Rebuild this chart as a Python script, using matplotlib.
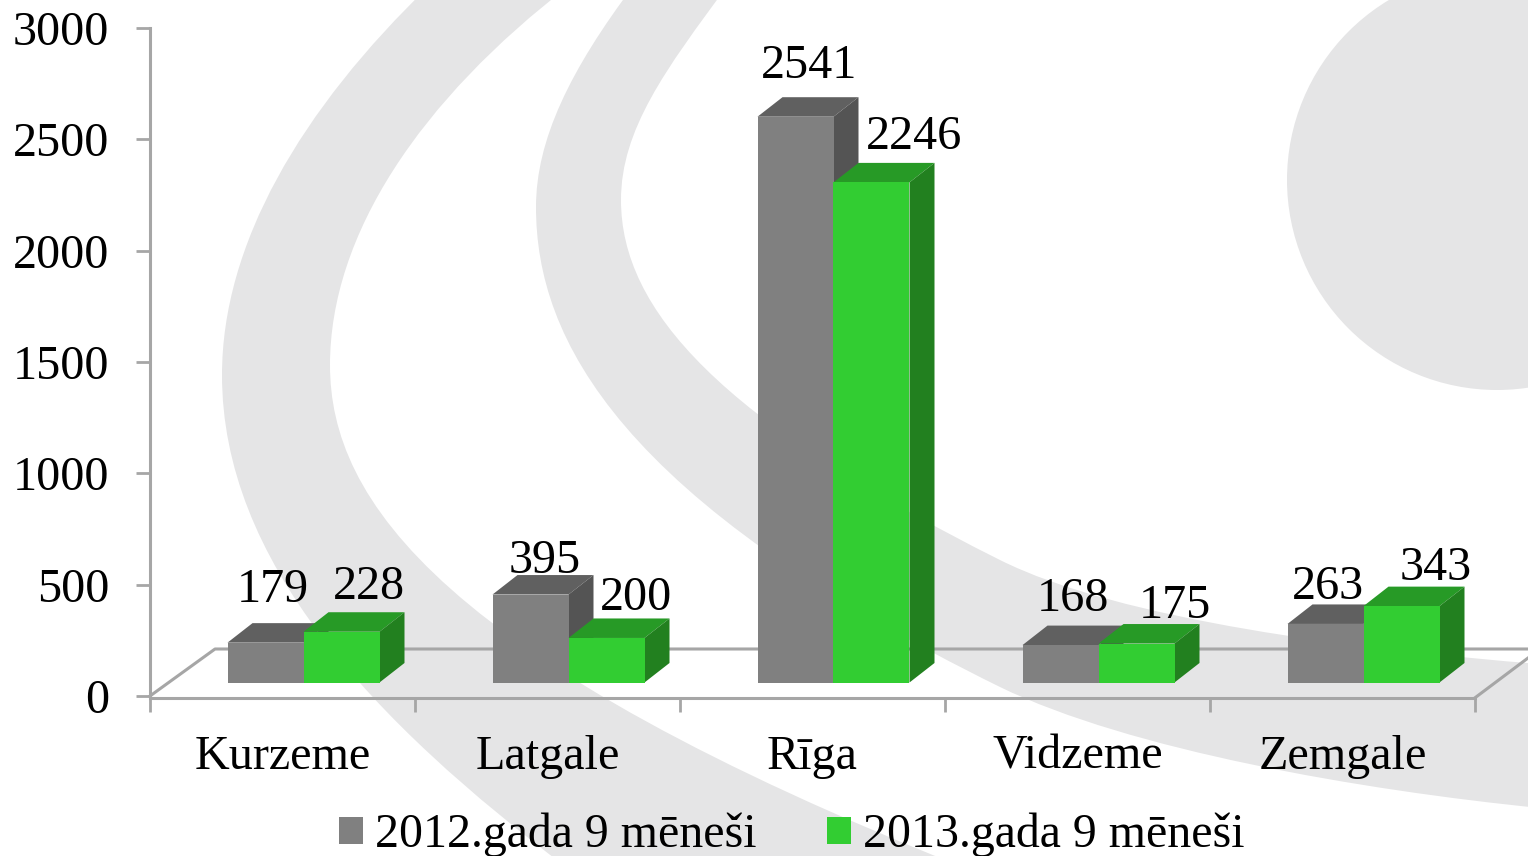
import numpy as np
import matplotlib
matplotlib.use("Agg")
import matplotlib.pyplot as plt
from matplotlib.patches import Polygon, Circle, PathPatch
from matplotlib.path import Path

plt.rcParams['font.family'] = ['Liberation Serif', 'DejaVu Serif']

REGIONS = ['Kurzeme', 'Latgale', 'Rīga', 'Vidzeme', 'Zemgale']
VALUES_2012 = [179, 395, 2541, 168, 263]
VALUES_2013 = [228, 200, 2246, 175, 343]
SERIES_NAMES = ['2012.gada 9 mēneši', '2013.gada 9 mēneši']
Y_TICKS = [0, 500, 1000, 1500, 2000, 2500, 3000]

# hand placed data labels, pixels right of / above the front top of each bar
LABEL_SHIFT_2012 = [(7, 41), (14, 22), (14, 39), (12, 34), (2.5, 25)]
LABEL_SHIFT_2013 = [(27, 33), (30, 28), (43, 33), (38, 26), (34.5, 26)]

W, H = 1528, 856
FONT = 34.7
LEGEND_FONT = 34.5
LINE = '#a6a6a6'
SWOOSH = '#e5e5e6'
PX_X = 265            # pixels per category
PX_Y = 668 / 3000     # pixels per unit
BAR_W = 76 / PX_X
BAR_X0 = 77.5 / PX_X  # left edge of first bar inside a category
DEPTH_X = 25 / PX_X
DEPTH_Y = 19.5 / PX_Y
BASE = 13.5 / PX_Y    # bars stand on the floor, not on the front line


def band(bg, outer, inner):
    # both edges are bezier chains: start, then (control, control, end) triples
    verts = outer + inner[::-1] + [outer[0]]
    codes = [Path.MOVETO] + [Path.CURVE4] * (len(outer) - 1)
    codes += [Path.LINETO] + [Path.CURVE4] * (len(inner) - 1) + [Path.CLOSEPOLY]
    bg.add_patch(PathPatch(Path(verts, codes), fc=SWOOSH, ec='none'))


def draw_bar(ax, left, value, front, top, side, z):
    ax.bar(left, value, BAR_W, bottom=BASE, align='edge', color=front, zorder=z + 1)
    y1 = BASE + value
    r = left + BAR_W
    ax.add_patch(Polygon([(left, y1), (r, y1), (r + DEPTH_X, y1 + DEPTH_Y), (left + DEPTH_X, y1 + DEPTH_Y)],
                         closed=True, fc=top, ec='none', zorder=z, clip_on=False))
    ax.add_patch(Polygon([(r, BASE), (r + DEPTH_X, BASE + DEPTH_Y), (r + DEPTH_X, y1 + DEPTH_Y), (r, y1)],
                         closed=True, fc=side, ec='none', zorder=z, clip_on=False))


fig = plt.figure(figsize=(W / 100, H / 100), dpi=100, facecolor='white')

# background artwork
bg = fig.add_axes([0, 0, 1, 1])
bg.set_xlim(0, W)
bg.set_ylim(H, 0)
bg.axis('off')
band(bg,
     [(430, -15), (300, 110), (222, 245), (222, 375), (222, 560), (370, 720), (570, 870)],
     [(570, -15), (420, 100), (330, 235), (330, 365), (330, 500), (440, 660), (970, 870)])
band(bg,
     [(634, -15), (570, 70), (536, 140), (536, 207), (536, 340), (620, 500), (1000, 687),
      (1130, 750), (1360, 790), (1540, 808)],
     [(728, -15), (665, 70), (621, 130), (621, 200), (621, 310), (720, 420), (1000, 560),
      (1120, 620), (1360, 650), (1540, 664)])
bg.add_patch(Circle((1497, 180), 210, fc=SWOOSH, ec='none'))

# chart
ax = fig.add_axes([150 / W, (H - 696) / H, 5 * PX_X / W, 668 / H])
ax.patch.set_alpha(0)
ax.set_xlim(0, 5)
ax.set_ylim(0, 3000)
for s in ['top', 'right']:
    ax.spines[s].set_visible(False)
for s in ['left', 'bottom']:
    ax.spines[s].set_color(LINE)
    ax.spines[s].set_linewidth(2.2)
ax.spines['bottom'].set_position(('outward', 1.4))

ax.set_yticks(Y_TICKS)
ax.set_xticks(range(6))
ax.set_xticklabels([])
ax.set_xticks(np.arange(5) + 0.5, minor=True)
ax.set_xticklabels(REGIONS, minor=True, fontsize=FONT)
ax.tick_params(axis='both', which='major', length=10, width=2, color=LINE, labelsize=FONT)
ax.tick_params(axis='y', pad=19.3)
ax.tick_params(axis='x', which='minor', length=0, pad=26.5)

# floor of the 3d box
floor_x = 65 / PX_X
floor_y = 47 / PX_Y
ax.plot([0, floor_x, 5 + 0.3], [0, floor_y, floor_y], color=LINE, lw=2.2, clip_on=False, zorder=1)
ax.plot([5, 5 + floor_x], [-8, floor_y], color=LINE, lw=2.2, clip_on=False, zorder=1)

for i in range(len(REGIONS)):
    left_a = i + BAR_X0
    left_b = left_a + BAR_W
    draw_bar(ax, left_a, VALUES_2012[i], '#808080', '#606060', '#545454', 2 + i * 4)
    draw_bar(ax, left_b, VALUES_2013[i], '#32cd32', '#279a26', '#22801f', 4 + i * 4)
    for left, val, shift in [(left_a, VALUES_2012[i], LABEL_SHIFT_2012[i]),
                             (left_b, VALUES_2013[i], LABEL_SHIFT_2013[i])]:
        ax.annotate(str(val), (left + BAR_W / 2, BASE + val),
                    xytext=(shift[0] * 0.72, shift[1] * 0.72), textcoords='offset points',
                    ha='center', va='baseline', fontsize=FONT, color='black', zorder=40,
                    annotation_clip=False)

handles = [plt.Rectangle((0, 0), 1, 1, fc='#808080'), plt.Rectangle((0, 0), 1, 1, fc='#32cd32')]
fig.legend(handles, SERIES_NAMES, ncol=2, frameon=False, fontsize=LEGEND_FONT,
           loc='lower center', bbox_to_anchor=(791.5 / W, -0.0015),
           handlelength=0.5, handleheight=0.5, handletextpad=0.25, columnspacing=1.47,
           borderpad=0, borderaxespad=0)

fig.savefig('out.png', dpi=100)
